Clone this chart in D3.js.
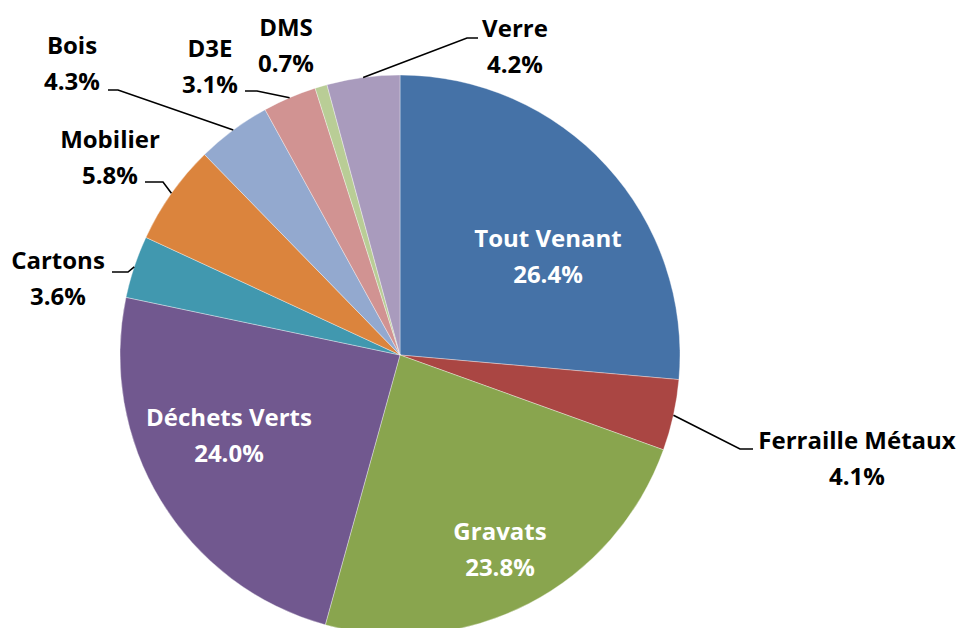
<!DOCTYPE html>
<html>
<head>
<meta charset="utf-8">
<style>
  body { margin: 0; background: #fff; }
  svg { display: block; }
  text { font-family: 'Open Sans', Lato, sans-serif; font-weight: 700; font-size: 24px; }
</style>
</head>
<body>
<svg id="chart" width="961" height="628"></svg>
<script src="https://cdn.jsdelivr.net/npm/d3@7"></script>
<script>
/* global d3 */

// ------- data -------
const categories = ['Tout Venant', 'Ferraille Métaux', 'Gravats', 'Déchets Verts', 'Cartons',
  'Mobilier', 'Bois', 'D3E', 'DMS', 'Verre']
const shares = [26.4, 4.1, 23.8, 24.0, 3.6, 5.8, 4.3, 3.1, 0.7, 4.2]
const colors = ['#4572A7', '#AA4643', '#89A54E', '#71588F', '#4198AF',
  '#DB843D', '#93A9CF', '#D19392', '#B9CD96', '#A99BBD']

// label layout: text centre x, first baseline y; lead = [elbow x, end x, y]
const labelLayout = {
  'Tout Venant': { x: 548, y: 247, inside: true },
  'Ferraille Métaux': { x: 857, y: 449, lead: [740, 753, 449] },
  'Gravats': { x: 500, y: 540, inside: true },
  'Déchets Verts': { x: 229, y: 426, inside: true },
  'Cartons': { x: 58, y: 269, lead: [128, 112, 272] },
  'Mobilier': { x: 110, y: 148, lead: [163, 145, 182] },
  'Bois': { x: 72, y: 54, lead: [118, 108, 90] },
  'D3E': { x: 210, y: 57, lead: [257, 245, 91] },
  'DMS': { x: 286, y: 36 },
  'Verre': { x: 515, y: 37, lead: [467, 478, 38] }
}

const cx = 400
const cy = 355
const radius = 280
const lineGap = 36

const svg = d3.select('#chart')
const g = svg.append('g').attr('transform', `translate(${cx},${cy})`)

const data = categories.map((c, i) => ({ name: c, value: shares[i], color: colors[i] }))

const pie = d3.pie().value(d => d.value).sort(null)
const arc = d3.arc().innerRadius(0).outerRadius(radius)
const arcs = pie(data)

g.selectAll('path.slice')
  .data(arcs)
  .enter().append('path')
  .attr('class', 'slice')
  .attr('d', arc)
  .attr('fill', d => d.data.color)
  .attr('stroke', '#fff')
  .attr('stroke-opacity', 0.6)
  .attr('stroke-width', 0.6)

// leader lines from the slice mid-angle on the rim
arcs.forEach(a => {
  const lay = labelLayout[a.data.name]
  if (!lay.lead) return
  const mid = (a.startAngle + a.endAngle) / 2
  const px = cx + radius * Math.sin(mid)
  const py = cy - radius * Math.cos(mid)
  svg.append('polyline')
    .attr('points', `${px},${py} ${lay.lead[0]},${lay.lead[2]} ${lay.lead[1]},${lay.lead[2]}`)
    .attr('fill', 'none')
    .attr('stroke', '#000')
    .attr('stroke-width', 1.6)
})

// labels
arcs.forEach(a => {
  const lay = labelLayout[a.data.name]
  const t = svg.append('text')
    .attr('text-anchor', 'middle')
    .attr('fill', lay.inside ? '#fff' : '#000')
  t.append('tspan').attr('x', lay.x).attr('y', lay.y).text(a.data.name)
  t.append('tspan').attr('x', lay.x).attr('y', lay.y + lineGap).text(a.data.value.toFixed(1) + '%')
})
</script>
</body>
</html>
